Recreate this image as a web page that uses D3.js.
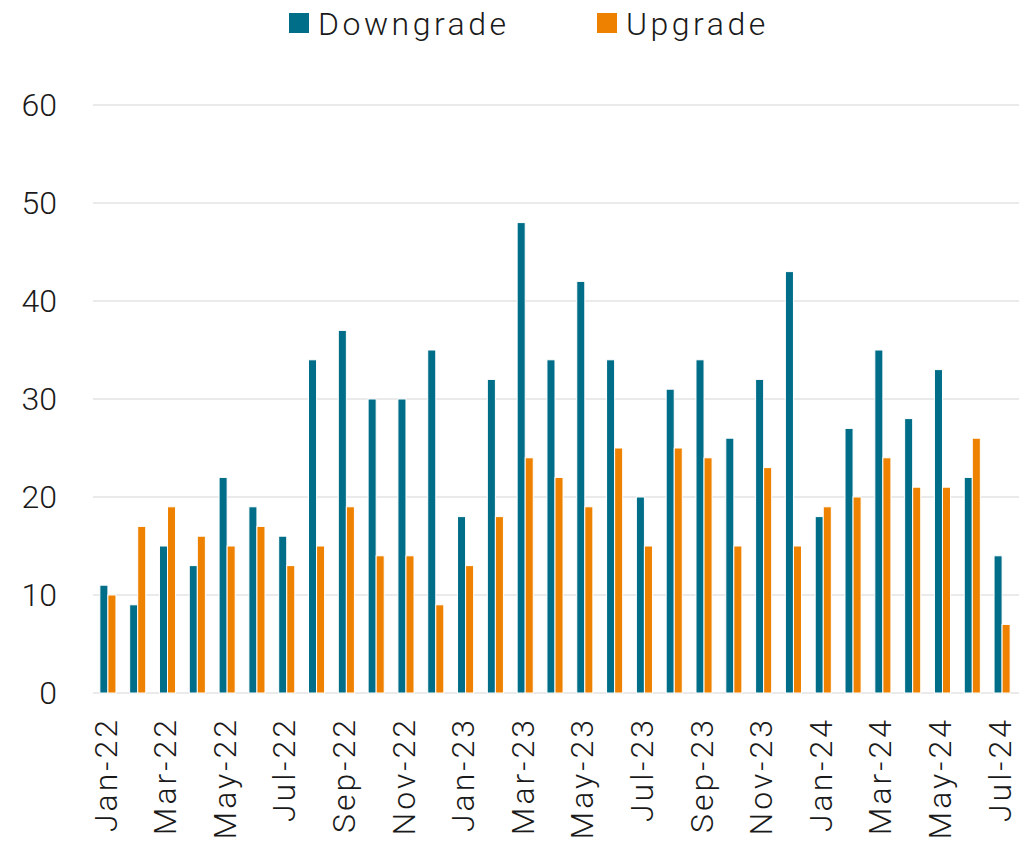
<!DOCTYPE html>
<html>
<head>
<meta charset="utf-8">
<script src="https://cdn.jsdelivr.net/npm/d3@7"></script>
<style>
  html, body { margin: 0; padding: 0; background: #fff; }
  svg text { font-family: Roboto, "Liberation Sans", sans-serif; font-weight: 300; fill: #1a1a1a; }
</style>
</head>
<body>
<svg id="chart" width="1020" height="841"></svg>
<script>
// Monthly rating actions, Jan-22 through Jul-24
const months = ["Jan-22","Feb-22","Mar-22","Apr-22","May-22","Jun-22","Jul-22","Aug-22","Sep-22","Oct-22","Nov-22","Dec-22",
                "Jan-23","Feb-23","Mar-23","Apr-23","May-23","Jun-23","Jul-23","Aug-23","Sep-23","Oct-23","Nov-23","Dec-23",
                "Jan-24","Feb-24","Mar-24","Apr-24","May-24","Jun-24","Jul-24"];
const downgrades = [11, 9, 15, 13, 22, 19, 16, 34, 37, 30, 30, 35, 18, 32, 48, 34, 42, 34, 20, 31, 34, 26, 32, 43, 18, 27, 35, 28, 33, 22, 14];
const upgrades   = [10, 17, 19, 16, 15, 17, 13, 15, 19, 14, 14, 9, 13, 18, 24, 22, 19, 25, 15, 25, 24, 15, 23, 15, 19, 20, 24, 21, 21, 26, 7];
const seriesNames = ["Downgrade", "Upgrade"];
const yTicks = [0, 10, 20, 30, 40, 50, 60];

const colors = { Downgrade: "#006e88", Upgrade: "#ee8200" };

const svg = d3.select("#chart");
const margin = { left: 93, right: 3, top: 105, bottom: 148 };
const W = 1020, H = 841;

const x0 = d3.scaleBand().domain(months).range([margin.left, W - margin.right])
  .paddingInner(0.46).paddingOuter(0.23);
const x1 = d3.scaleBand().domain(seriesNames).range([0, x0.bandwidth()]);
const y = d3.scaleLinear().domain([0, 60]).range([H - margin.bottom, margin.top]);

// Horizontal gridlines
svg.append("g").selectAll("line").data(yTicks).join("line")
  .attr("x1", margin.left).attr("x2", W - 1)
  .attr("y1", d => y(d)).attr("y2", d => y(d))
  .attr("stroke", "#e3e3e3").attr("stroke-width", 1.5);

// Y axis labels
const yAxis = d3.axisLeft(y).tickValues(yTicks).tickSize(0).tickPadding(0);
const gy = svg.append("g").attr("transform", `translate(57,0)`).call(yAxis);
gy.select(".domain").remove();
gy.selectAll("text").attr("font-size", 32).attr("fill", "#1a1a1a")
  .style("font-family", "Roboto, sans-serif").style("font-weight", 300);

// Bars
const rows = months.map((m, i) => ({ month: m, values: [
  { key: "Downgrade", value: downgrades[i] },
  { key: "Upgrade", value: upgrades[i] }
]}));

const groups = svg.append("g").selectAll("g").data(rows).join("g")
  .attr("transform", d => `translate(${x0(d.month)},0)`);
groups.selectAll("rect").data(d => d.values).join("rect")
  .attr("x", d => x1(d.key))
  .attr("width", x1.bandwidth())
  .attr("y", d => y(d.value))
  .attr("height", d => y(0) - y(d.value))
  .attr("fill", d => colors[d.key])
  .attr("stroke", "#ffffff").attr("stroke-width", 1);

// X axis labels (every other month)
const xAxis = d3.axisBottom(x0).tickValues(months.filter((m, i) => i % 2 === 0)).tickSize(0).tickPadding(0);
const gx = svg.append("g").attr("transform", `translate(0,${y(0)})`).call(xAxis);
gx.select(".domain").remove();
gx.selectAll("text")
  .attr("font-size", 32).attr("fill", "#1a1a1a")
  .style("font-family", "Roboto, sans-serif").style("font-weight", 300)
  .style("letter-spacing", "3px")
  .attr("text-anchor", "end")
  .attr("transform", "translate(-1,24) rotate(-90)")
  .attr("x", 0).attr("y", 0).attr("dy", "0.3em");

// Legend
const legendItems = [
  { key: "Downgrade", x: 289 },
  { key: "Upgrade", x: 597 }
];
const lg = svg.append("g").selectAll("g").data(legendItems).join("g")
  .attr("transform", d => `translate(${d.x},13)`);
lg.append("rect").attr("width", 20).attr("height", 20).attr("fill", d => colors[d.key]);
lg.append("text").attr("x", 29).attr("y", 10).attr("dy", "0.36em")
  .attr("font-size", 32).style("letter-spacing", "3.5px")
  .text(d => d.key);
</script>
</body>
</html>
